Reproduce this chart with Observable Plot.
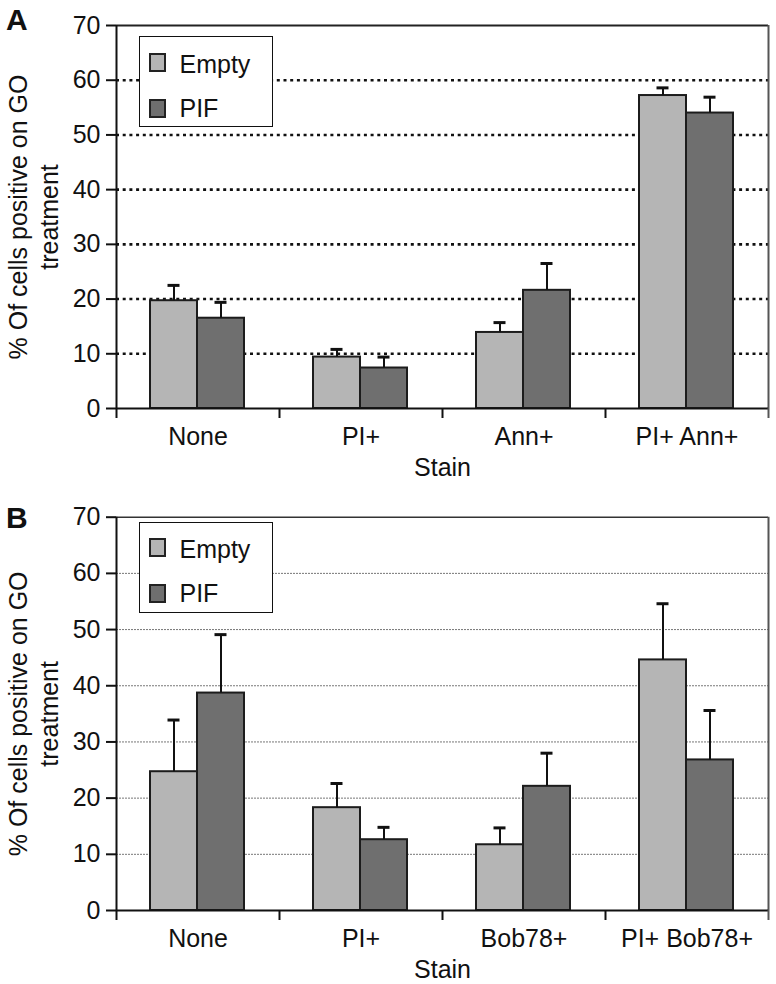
<!DOCTYPE html>
<html>
<head>
<meta charset="utf-8">
<script src="https://cdn.jsdelivr.net/npm/d3@7"></script>
<script src="https://cdn.jsdelivr.net/npm/@observablehq/plot@0.6"></script>
<style>
  html, body { margin: 0; padding: 0; background: #fff; }
  body { font-family: "Liberation Sans", Arial, sans-serif; }
  #wrap { position: relative; width: 776px; height: 984px; overflow: hidden; }
  .panel { position: absolute; left: 0; }
  .panel svg { display: block; }
  .letter { position: absolute; left: 6px; font-weight: bold; font-size: 30px; line-height: 1; color: #111; }
  .legend { position: absolute; left: 139px; width: 134px; height: 91px; box-sizing: border-box;
            border: 1.5px solid #111; background: #fff; }
  .legend .sw { position: absolute; left: 8.5px; width: 17px; height: 19px; box-sizing: border-box; border: 2px solid #222; }
  .legend .lb { position: absolute; left: 39.5px; font-size: 25px; line-height: 1; color: #111; white-space: nowrap; }
</style>
</head>
<body>
<div id="wrap"></div>
<script>
// ---------- data ----------
const series = ["Empty", "PIF"];
const seriesColors = ["#b5b5b5", "#6f6f6f"];
const yTicks = [0, 10, 20, 30, 40, 50, 60, 70];
const yTitle = "% Of cells positive on GO\ntreatment";
const xTitle = "Stain";

const catsA = ["None", "PI+", "Ann+", "PI+ Ann+"];
const emptyA = [19.7, 9.4, 13.9, 57.2];
const emptyErrA = [2.8, 1.4, 1.8, 1.4];
const pifA = [16.5, 7.4, 21.6, 54.0];
const pifErrA = [2.9, 2.0, 4.9, 2.9];

const catsB = ["None", "PI+", "Bob78+", "PI+ Bob78+"];
const emptyB = [24.7, 18.3, 11.7, 44.6];
const emptyErrB = [9.2, 4.3, 3.0, 10.0];
const pifB = [38.7, 12.6, 22.1, 26.8];
const pifErrB = [10.4, 2.2, 5.9, 8.8];

// ---------- layout ----------
const W = 776, ML = 116, MR = 8;
const FONT = "'Liberation Sans', Arial, Helvetica, sans-serif";

function makePanel(cats, emptyV, emptyE, pifV, pifE, cfg) {
  const rows = cats.flatMap((c, i) => [
    {cat: c, series: series[0], value: emptyV[i], err: emptyE[i]},
    {cat: c, series: series[1], value: pifV[i], err: pifE[i]}
  ]);
  const step = (W - ML - MR) / cats.length;
  // bar placement inside each category band (pixels from band's left edge)
  const place = {
    [series[0]]: {l: 34, r: 81},
    [series[1]]: {l: 81, r: 128}
  };
  const colorOf = s => seriesColors[series.indexOf(s)];
  const last = cats[cats.length - 1];

  const marks = [];
  // grid lines
  marks.push(Plot.ruleY(yTicks.filter(t => t > 0 && t < 70), cfg.grid));
  // bars + error bars per series
  for (const s of series) {
    const p = place[s];
    const data = rows.filter(d => d.series === s);
    const mid = (p.l + p.r) / 2;
    marks.push(Plot.barY(data, {
      x: "cat", y: "value", fill: colorOf(s), stroke: "#1c1c1c", strokeWidth: 2,
      insetLeft: p.l, insetRight: step - p.r
    }));
    marks.push(Plot.ruleX(data, {
      x: "cat", y1: "value", y2: d => d.value + d.err,
      dx: mid - step / 2, stroke: "#111", strokeWidth: 2
    }));
    marks.push(Plot.tickY(data, {
      x: "cat", y: d => d.value + d.err,
      insetLeft: mid - 6, insetRight: step - mid - 6, stroke: "#111", strokeWidth: 3
    }));
  }
  // frame lines
  marks.push(Plot.ruleY([70], {stroke: cfg.topStroke, strokeWidth: cfg.topWidth}));
  marks.push(Plot.ruleX([last], {dx: step / 2, stroke: "#555", strokeWidth: 2}));
  marks.push(Plot.ruleX([cats[0]], {dx: -step / 2, stroke: "#111", strokeWidth: 2}));
  marks.push(Plot.ruleY([0], {stroke: "#111", strokeWidth: 2}));
  // axes
  marks.push(Plot.axisY({ticks: yTicks, tickSize: 10, tickPadding: 6, fontSize: 25,
    label: null, tickFormat: d => String(d), strokeWidth: 2}));
  marks.push(Plot.axisX({tickSize: 0, tickPadding: 19, fontSize: 25, label: null}));
  marks.push(Plot.axisX({tickSize: 10, tickFormat: null, label: null, dx: -step / 2, strokeWidth: 2}));
  marks.push(Plot.axisX({ticks: [last], tickSize: 10, tickFormat: null, label: null, dx: step / 2, strokeWidth: 2, stroke: "#555"}));
  // titles
  marks.push(Plot.text([xTitle], {frameAnchor: "bottom", lineAnchor: "middle", textAnchor: "middle",
    dy: 59, text: d => d, fontSize: 25, fill: "#111"}));
  marks.push(Plot.text([yTitle], {frameAnchor: "left", rotate: -90, dx: -83.5, text: d => d,
    textAnchor: "middle", lineAnchor: "middle", fontSize: 25, lineHeight: 1.24, fill: "#111"}));

  const svg = Plot.plot({
    width: W, height: cfg.height,
    marginLeft: ML, marginRight: MR, marginTop: cfg.mt, marginBottom: cfg.mb,
    style: {fontFamily: FONT, color: "#111", background: "#fff", overflow: "visible"},
    x: {domain: cats, padding: 0},
    y: {domain: [0, 70]},
    marks
  });

  const div = document.createElement("div");
  div.className = "panel";
  div.style.top = cfg.top + "px";
  div.appendChild(svg);
  return div;
}

function makeLegend(top) {
  const box = document.createElement("div");
  box.className = "legend";
  box.style.top = top + "px";
  const swTops = [15.5, 61.5], lbTops = [14.6, 58.6];
  series.forEach((s, i) => {
    const sw = document.createElement("div");
    sw.className = "sw";
    sw.style.top = swTops[i] + "px";
    sw.style.background = seriesColors[i];
    box.appendChild(sw);
    const lb = document.createElement("div");
    lb.className = "lb";
    lb.style.top = lbTops[i] + "px";
    lb.textContent = s;
    box.appendChild(lb);
  });
  return box;
}

function makeLetter(t, top) {
  const d = document.createElement("div");
  d.className = "letter";
  d.style.top = top + "px";
  d.textContent = t;
  return d;
}

const wrap = document.getElementById("wrap");
wrap.appendChild(makePanel(catsA, emptyA, emptyErrA, pifA, pifErrA, {
  top: 0, height: 484, mt: 25, mb: 76,
  grid: {stroke: "#111", strokeWidth: 2.6, strokeDasharray: "3,3.7"},
  topStroke: "#222", topWidth: 2
}));
wrap.appendChild(makePanel(catsB, emptyB, emptyErrB, pifB, pifErrB, {
  top: 484, height: 500, mt: 32.7, mb: 74,
  grid: {stroke: "#777", strokeWidth: 1, strokeDasharray: "2,1"},
  topStroke: "#333", topWidth: 1.5
}));
wrap.appendChild(makeLegend(36));
wrap.appendChild(makeLegend(521.7));
wrap.appendChild(makeLetter("A", 5));
wrap.appendChild(makeLetter("B", 503));
</script>
</body>
</html>
